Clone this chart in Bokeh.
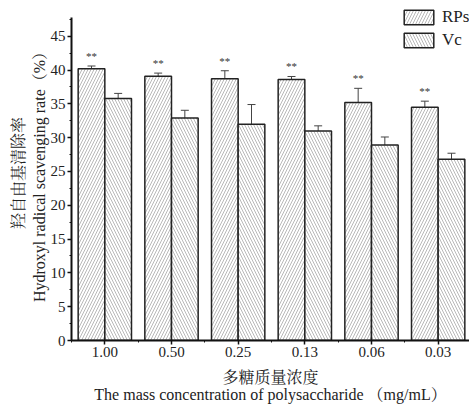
from bokeh.plotting import figure
from bokeh.models import (ColumnDataSource, FixedTicker, SingleIntervalTicker,
                          Whisker, TeeHead, Legend, LegendItem)
from bokeh.embed import file_html
from bokeh.resources import INLINE
from bokeh.core.properties import value

# Polysaccharide concentrations (mg/mL) and hydroxyl radical scavenging rates (%)
concentrations = ["1.00", "0.50", "0.25", "0.13", "0.06", "0.03"]
rps_rate = [40.2, 39.1, 38.7, 38.6, 35.2, 34.5]
rps_err = [0.4, 0.45, 1.2, 0.45, 2.1, 0.9]
vc_rate = [35.8, 32.9, 32.0, 31.0, 28.9, 26.8]
vc_err = [0.75, 1.15, 2.9, 0.75, 1.2, 0.9]
significance = ["**", "**", "**", "**", "**", "**"]

SERIF = "'Liberation Serif', 'Noto Serif CJK SC', 'Noto Sans CJK SC', serif"
BAR_W = 0.4
Y_AXIS_TOP = 47.8

idx = list(range(len(concentrations)))
rps_src = ColumnDataSource(dict(
    x=[i - BAR_W / 2 for i in idx],
    top=rps_rate,
    upper=[v + e for v, e in zip(rps_rate, rps_err)],
    lower=[v - e for v, e in zip(rps_rate, rps_err)],
    sig=significance,
))
vc_src = ColumnDataSource(dict(
    x=[i + BAR_W / 2 for i in idx],
    top=vc_rate,
    upper=[v + e for v, e in zip(vc_rate, vc_err)],
    lower=[v - e for v, e in zip(vc_rate, vc_err)],
))

# the frame reaches a little above the y axis so the legend has room at the top
p = figure(width=469, height=406, x_range=(-0.5, 5.47), y_range=(0, 49.55),
           output_backend="svg", toolbar_location=None,
           min_border_left=71, min_border_right=0, min_border_top=5,
           min_border_bottom=66)
p.outline_line_color = None
p.xgrid.visible = False
p.ygrid.visible = False
p.background_fill_color = "white"
p.border_fill_color = "white"

bar_style = dict(width=BAR_W, fill_color="white", line_color="#222222",
                 line_width=1.5, hatch_color="#9a9a9a", hatch_scale=6,
                 hatch_weight=0.7)
r_rps = p.vbar(x="x", top="top", source=rps_src, hatch_pattern="/", **bar_style)
r_vc = p.vbar(x="x", top="top", source=vc_src, hatch_pattern="\\", **bar_style)

for src in (rps_src, vc_src):
    p.add_layout(Whisker(source=src, base="x", upper="upper", lower="lower",
                         line_color="#444444", line_width=1,
                         upper_head=TeeHead(size=8, line_color="#444444", line_width=1),
                         lower_head=TeeHead(size=8, line_color="#444444", line_width=1)))

p.text(x="x", y="upper", text="sig", source=rps_src, text_font=value(SERIF),
       text_font_size="11px", text_align="center", text_baseline="bottom",
       y_offset=-4, text_color="#333333")

# axes
for ax in (p.xaxis[0], p.yaxis[0]):
    ax.axis_line_width = 2
    ax.axis_line_color = "#111111"
    ax.major_tick_line_color = "#111111"
    ax.minor_tick_line_color = "#111111"
    ax.major_tick_line_width = 1.5
    ax.major_tick_in = 0
    ax.major_tick_out = 4
    ax.minor_tick_in = 0
    ax.minor_tick_out = 2
    ax.major_label_text_font = SERIF
    ax.major_label_text_font_size = "15px"
    ax.major_label_text_color = "#222222"
    ax.axis_label_text_font = SERIF
    ax.axis_label_text_font_style = "normal"
    ax.axis_label_text_font_size = "16px"
    ax.axis_label_text_color = "#222222"

p.xaxis.ticker = FixedTicker(ticks=idx, minor_ticks=[i + 0.5 for i in [-1] + idx])
p.xaxis.major_label_overrides = {i: c for i, c in zip(idx, concentrations)}
p.xaxis.major_label_standoff = 2
p.xaxis.axis_label = "多糖质量浓度\nThe mass concentration of polysaccharide （mg/mL）"
p.xaxis.axis_label_text_line_height = 1.0
p.xaxis.axis_label_standoff = 9

p.yaxis.ticker = SingleIntervalTicker(interval=5, num_minor_ticks=2)
p.yaxis.bounds = (0, Y_AXIS_TOP)
p.yaxis.major_label_standoff = 2
p.yaxis.axis_label = "羟自由基清除率\nHydroxyl radical scavenging rate（%）"
p.yaxis.axis_label_standoff = 0

legend = Legend(items=[LegendItem(label="RPs", renderers=[r_rps]),
                       LegendItem(label="Vc", renderers=[r_vc])],
                location=(329, 290), glyph_width=37, glyph_height=18,
                label_height=18, spacing=3, padding=0, margin=0,
                label_standoff=5, label_text_font=SERIF,
                label_text_font_size="17px", label_text_color="#222222",
                background_fill_alpha=0, border_line_color=None)
p.add_layout(legend)

open("out.html", "w").write(file_html(p, INLINE))
